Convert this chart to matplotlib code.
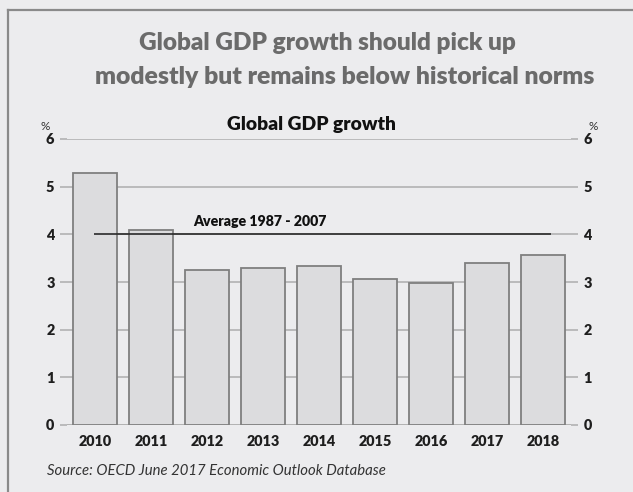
import matplotlib
matplotlib.use("Agg")
import matplotlib.pyplot as plt
from matplotlib import font_manager as fm

years = ["2010", "2011", "2012", "2013", "2014", "2015", "2016", "2017", "2018"]
growth = [5.28, 4.09, 3.25, 3.29, 3.34, 3.07, 2.97, 3.40, 3.56]
average_value = 4.0
average_label = "Average 1987 - 2007"
yticks = [0, 1, 2, 3, 4, 5, 6]
title_lines = ["Global GDP growth should pick up", "modestly but remains below historical norms"]
subtitle = "Global GDP growth"
source = "Source: OECD June 2017 Economic Outlook Database"

names = {f.name for f in fm.fontManager.ttflist}
fam = [n for n in ["Lato", "Open Sans"] if n in names]
plt.rcParams['font.family'] = fam + ["DejaVu Sans"]
BOLD = "heavy"

W, H = 633, 492
BG = "#ececee"
fig = plt.figure(figsize=(6.33, 4.92), dpi=100, facecolor=BG)
renderer = fig.canvas.get_renderer()

def fx(px):
    return px / W

def fy(py):
    return 1 - py / H

def fit(t, width_px):
    bb = t.get_window_extent(renderer=renderer)
    t.set_fontsize(t.get_fontsize() * width_px / bb.width)

# frame border (top and left)
fig.add_artist(plt.Line2D([fx(8), 1.0], [fy(10), fy(10)], color="#8a8a8a", lw=1.6, transform=fig.transFigure))
fig.add_artist(plt.Line2D([fx(8), fx(8)], [0, fy(10)], color="#8a8a8a", lw=1.6, transform=fig.transFigure))

ax = fig.add_axes([fx(67), fy(425), (571 - 67) / W, (425 - 139) / H])
ax.set_facecolor(BG)
x = list(range(len(years)))
ax.bar(x, growth, width=0.79, color="#dcdcde", edgecolor="#7f7f7f", linewidth=1.3, zorder=3)
ax.set_xlim(-0.5, 8.5)
ax.set_ylim(0, 6)
ax.set_yticks(yticks)
ax.yaxis.grid(True, color="#b2b2b2", lw=1.2, zorder=0)
for s in ax.spines.values():
    s.set_visible(False)
ax.axhline(0, color="#b2b2b2", lw=1.2, zorder=1)
ax.hlines(average_value, -0.02, 8.15, color="#2a2a2a", lw=1.2, zorder=4)

ax.set_xticks(x)
ax.set_xticklabels(years)

# year label size: "2010" is about 33 px wide
probe = fig.text(0, 0, "2010", fontsize=10, fontweight=BOLD)
fit(probe, 33)
tick_fs = probe.get_fontsize()
probe.remove()

ax.tick_params(axis="x", length=0, pad=7, labelsize=tick_fs, labelcolor="#1e1e1e")
ax.tick_params(axis="y", length=5, color="#b2b2b2", width=1.2, labelsize=tick_fs,
               labelcolor="#1e1e1e", left=True, right=True, labelleft=True, labelright=True, pad=4)
for t in ax.xaxis.get_major_ticks():
    t.label1.set_fontweight(BOLD)
for t in ax.yaxis.get_major_ticks():
    t.label1.set_fontweight(BOLD)
    t.label2.set_fontweight(BOLD)

a = fig.text(fx(260), fy(226), average_label, ha="center", va="baseline",
             fontsize=10, fontweight=BOLD, color="#111111")
fit(a, 327 - 193)

t1 = fig.text(fx(327), fy(50), title_lines[0], ha="center", va="baseline",
              fontsize=20, fontweight=BOLD, color="#6b6b6b")
fit(t1, (507 - 147) * 1.05)
t2 = fig.text(fx(345), fy(84), title_lines[1], ha="center", va="baseline",
              fontsize=20, fontweight=BOLD, color="#6b6b6b")
fit(t2, (583 - 106) * 1.05)
st = fig.text(fx(311), fy(130), subtitle, ha="center", va="baseline",
              fontsize=13, fontweight=BOLD, color="#111111")
fit(st, 395 - 227)
fig.text(fx(45), fy(126), "%", ha="center", va="center", fontsize=8.5, color="#333333")
fig.text(fx(593), fy(127), "%", ha="center", va="center", fontsize=8.5, color="#333333")
src = fig.text(fx(47), fy(475), source, ha="left", va="baseline",
               fontsize=10.5, fontstyle="italic", color="#333333")
fit(src, 388 - 47)

fig.savefig("out.png", dpi=100, facecolor=BG)
